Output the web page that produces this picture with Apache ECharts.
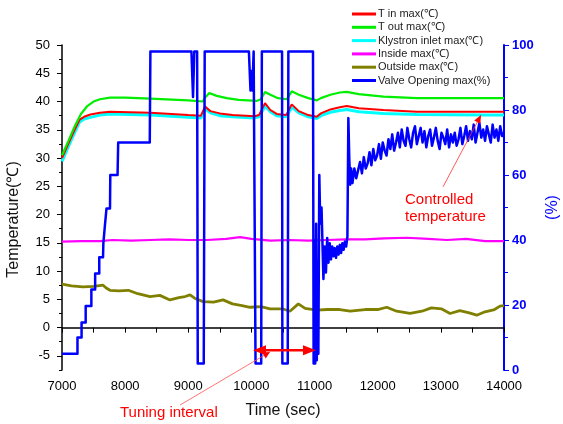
<!DOCTYPE html>
<html>
<head>
<meta charset="utf-8">
<script src="https://cdn.jsdelivr.net/npm/echarts@6/dist/echarts.min.js"></script>
<style>
html, body { margin: 0; padding: 0; background: #fff; }
#main { width: 563px; height: 424px; }
</style>
</head>
<body>
<div id="main"></div>
<script>
/* series names (legend order) */
const names = ['T in max(\u2103)', 'T out max(\u2103)', 'Klystron inlet max(\u2103)',
    'Inside max(\u2103)', 'Outside max(\u2103)', 'Valve Opening max(%)'];

/* T in (red) */
const tinTime = [7000, 7100, 7200, 7280, 7350, 7450, 7600, 7760, 8400, 9000, 9200, 9265, 9350, 9500, 9700,
    10050, 10120, 10215, 10300, 10400, 10550, 10638, 10750, 10900, 11034, 11100, 11250, 11400, 11510,
    11700, 12090, 12620, 13700, 14000];
const tinValue = [30, 32.5, 35, 36.8, 37.3, 37.7, 38.0, 38.2, 38.0, 37.6, 37.5, 39.1, 38.3, 37.9, 37.6,
    37.4, 37.6, 39.7, 38.5, 37.8, 37.6, 39.5, 38.3, 37.6, 37.3, 37.9, 38.6, 39.0, 39.2,
    38.8, 38.5, 38.2, 38.2, 38.2];

/* T out (green) */
const toutTime = [7000, 7100, 7200, 7300, 7400, 7500, 7600, 7760, 8000, 8400, 9000, 9230, 9260, 9333, 9450,
    9610, 9800, 10080, 10150, 10215, 10300, 10420, 10560, 10638, 10750, 10900, 11034, 11100, 11250,
    11400, 11510, 11700, 12090, 12620, 14000];
const toutValue = [30.5, 33, 35.6, 37.8, 39.2, 40.0, 40.4, 40.7, 40.7, 40.5, 40.2, 40.0, 40.6, 41.5, 41.0,
    40.6, 40.3, 40.1, 40.4, 41.7, 41.2, 40.6, 40.4, 41.8, 41.2, 40.6, 40.2, 40.6, 41.2,
    41.6, 41.7, 41.3, 40.85, 40.6, 40.6];

/* Klystron inlet (cyan) */
const klyTime = [7000, 7100, 7200, 7280, 7350, 7450, 7600, 7760, 8400, 9000, 9200, 9270, 9350, 9500, 9700,
    10050, 10120, 10220, 10300, 10400, 10550, 10640, 10750, 10900, 11034, 11100, 11250, 11400, 11510,
    11700, 12090, 12620, 13700, 14000];
const klyValue = [29.4, 32, 34.5, 36.4, 36.9, 37.2, 37.6, 37.8, 37.6, 37.2, 37.1, 38.7, 38.0, 37.5, 37.3,
    37.1, 37.3, 39.2, 38.2, 37.5, 37.3, 39.0, 38.0, 37.3, 37.0, 37.5, 38.1, 38.4, 38.6,
    38.2, 37.9, 37.7, 37.6, 37.6];

/* Inside (magenta) */
const insideTime = [7000, 7300, 7600, 7800, 8100, 8400, 8700, 9000, 9300, 9600, 9820, 10000, 10300, 10600,
    10900, 11200, 11500, 11800, 12100, 12460, 12800, 13100, 13400, 13700, 14000];
const insideValue = [15.2, 15.3, 15.3, 15.5, 15.4, 15.5, 15.6, 15.5, 15.5, 15.7, 16.0, 15.7, 15.4, 15.5,
    15.4, 15.5, 15.6, 15.6, 15.8, 15.9, 15.7, 15.5, 15.7, 15.3, 15.3];

/* Outside (olive) */
const outsideTime = [7000, 7150, 7330, 7500, 7650, 7700, 7760, 7900, 8050, 8200, 8394, 8550, 8710, 8850,
    8950, 9028, 9100, 9234, 9400, 9550, 9700, 9850, 9978, 10150, 10295, 10500, 10610, 10743, 10850,
    11034, 11200, 11400, 11563, 11800, 12000, 12143, 12300, 12512, 12700, 12850, 13015, 13146, 13300,
    13450, 13568, 13700, 13850, 13937, 14000];
const outsideValue = [7.7, 7.4, 7.2, 7.3, 7.5, 7.0, 6.6, 6.5, 6.6, 6.0, 5.5, 5.7, 4.9, 5.3,
    5.5, 5.8, 5.2, 4.6, 4.5, 4.9, 4.2, 3.9, 3.6, 3.7, 3.3, 3.3, 2.9, 4.2, 3.4,
    3.1, 3.2, 3.2, 2.9, 3.2, 3.2, 3.6, 2.9, 2.5, 2.9, 3.5, 3.3, 2.5, 3.0,
    2.6, 2.2, 2.8, 3.2, 3.8, 3.9];

/* Valve opening (blue, right axis) */
const valveTime = [7000, 7245, 7245, 7310, 7310, 7375, 7375, 7465, 7465, 7525, 7525, 7590, 7590, 7650,
    7655, 7675, 7680, 7700, 7705, 7760, 7765, 7880, 7890, 8390, 8400,
    9050, 9075, 9095, 9140, 9150, 9245, 9260,
    9960, 9985, 10000, 10015, 10035, 10060, 10065, 10155, 10165,
    10485, 10490, 10575, 10585,
    10975, 10985, 11000, 11010, 11025, 11035, 11050, 11060, 11075, 11090, 11110, 11140, 11160, 11180,
    11200, 11220, 11240, 11260, 11280, 11300, 11320, 11340, 11360, 11380, 11400, 11420, 11440, 11460,
    11480, 11500, 11520, 11535, 11550, 11565, 11580,
    11600, 11630, 11660, 11690, 11720, 11750, 11780, 11810, 11840, 11870, 11900, 11930, 11960, 11990,
    12020, 12050, 12080, 12110, 12140, 12170, 12200, 12230, 12260, 12290, 12320, 12350, 12380, 12410,
    12440, 12470, 12500, 12530, 12560, 12590, 12620, 12650, 12680, 12710, 12740, 12770, 12800, 12830,
    12860, 12890, 12920, 12950, 12980, 13010, 13040, 13070, 13100, 13130, 13160, 13190, 13220, 13250,
    13280, 13310, 13340, 13370, 13400, 13430, 13460, 13490, 13520, 13550, 13580, 13610, 13640, 13670,
    13700, 13730, 13760, 13790, 13820, 13850, 13880, 13910, 13940, 13970, 14000];
const valveValue = [5, 5, 10, 10, 14.6, 14.6, 19.7, 19.7, 24.8, 24.8, 29.7, 29.7, 34.7, 34.7,
    39, 39, 44.6, 44.6, 49.7, 49.7, 60, 60, 70, 70, 98,
    98, 84, 98, 98, 2, 2, 98,
    98, 86, 92, 86, 98, 98, 2, 2, 98,
    98, 2, 2, 98,
    98, 2, 40, 2, 45, 3, 30, 5, 60, 45, 50, 28, 38, 30,
    40.6, 33, 39, 34, 38, 35, 37.5, 34.5, 38, 35.5, 38.5, 36, 39, 37,
    39.5, 38, 41, 77.5, 65, 57, 62,
    57.5, 62, 59, 61.5, 64, 60.5, 65.5, 62, 63.5, 67, 63, 68, 64.5, 66,
    69.5, 65, 70, 67.5, 66, 71, 68, 72.5, 67.5, 70, 73, 68.5, 74, 70.5,
    69, 74.5, 71, 68.5, 73, 75, 69.5, 72, 74.5, 70, 73.5, 68.5, 72, 74,
    69, 71.5, 74.5, 70.5, 68, 73, 71.5, 69.5, 74, 68.5, 72.5, 70, 73, 69,
    71, 74.5, 69.5, 72, 75, 70.5, 73.5, 71, 75.5, 70, 73, 76, 71.5, 74,
    70.5, 75, 72.5, 70, 75.5, 71.5, 74, 70.5, 75, 72, 73];

/* left axis ticks */
const leftMajor = [-5, 0, 5, 10, 15, 20, 25, 30, 35, 40, 45, 50];

const colors = ['#ff0000', '#00ee00', '#00ffff', '#ff00ff', '#808000', '#0000ff'];
const font = '"Liberation Sans", Arial, sans-serif';

const pairs = (t, v) => t.map((x, i) => [x, v[i]]);

const chartDom = document.getElementById('main');
const myChart = echarts.init(chartDom);
var option;

option = {
    animation: false,
    color: colors,
    textStyle: { fontFamily: font },
    grid: { left: 62, right: 59, top: 45, bottom: 54, containLabel: false, outerBoundsMode: 'none' },
    legend: {
        data: names,
        orient: 'vertical',
        left: 352,
        top: 8,
        padding: 0,
        icon: 'rect',
        itemWidth: 24,
        itemHeight: 3,
        itemGap: 1.3,
        selectedMode: false,
        textStyle: { fontSize: 11, lineHeight: 12, color: '#222', fontFamily: font, padding: [0, 0, 0, -3] }
    },
    xAxis: {
        type: 'value',
        min: 7000,
        max: 14000,
        interval: 1000,
        name: 'Time (sec)',
        nameLocation: 'middle',
        nameGap: 33,
        nameTextStyle: { fontSize: 16, color: '#111', fontFamily: font },
        axisLine: { lineStyle: { color: '#000', width: 1.5 } },
        axisTick: { length: 5, lineStyle: { color: '#000', width: 1 } },
        minorTick: { show: true, splitNumber: 2, length: 5, lineStyle: { color: '#000', width: 1 } },
        axisLabel: { fontSize: 13, color: '#000', margin: 10, fontFamily: font, formatter: (v) => String(v) },
        splitLine: { show: false }
    },
    yAxis: [
        {
            type: 'value',
            position: 'left',
            min: -7.5,
            max: 50,
            interval: 2.5,
            name: 'Temperature(\u2103)',
            nameLocation: 'middle',
            nameGap: 40,
            nameTextStyle: { fontSize: 16, color: '#111', fontFamily: font, padding: [0, 24, 0, 0] },
            axisLine: { show: true, lineStyle: { color: '#000', width: 1.5 } },
            axisTick: { length: 3, lineStyle: { color: '#000', width: 1 } },
            axisLabel: {
                fontSize: 13, color: '#000', margin: 12, fontFamily: font,
                formatter: (v) => (Math.abs(v % 5) < 1e-6 && v > -6 ? String(v) : '')
            },
            splitLine: { show: false }
        },
        {
            type: 'value',
            position: 'right',
            min: 0,
            max: 100,
            interval: 20,
            name: '(%)',
            nameLocation: 'middle',
            nameGap: 34,
            nameTextStyle: { fontSize: 16, color: '#0000ff', fontFamily: font },
            axisLine: { show: true, lineStyle: { color: '#0000ff', width: 2 } },
            axisTick: { length: 5, lineStyle: { color: '#0000ff', width: 1 } },
            minorTick: { show: true, splitNumber: 2, length: 4, lineStyle: { color: '#0000ff', width: 1 } },
            axisLabel: { fontSize: 13, color: '#0000ff', fontWeight: 'bold', margin: 8, fontFamily: font },
            splitLine: { show: false }
        },
        {
            /* overlay: longer major ticks for the temperature axis */
            type: 'value',
            position: 'left',
            min: -7.5,
            max: 50,
            axisLine: { show: false },
            axisTick: { show: true, length: 5, customValues: leftMajor, lineStyle: { color: '#000', width: 1 } },
            axisLabel: { show: false },
            splitLine: { show: false }
        }
    ],
    series: [
        { name: names[0], type: 'line', yAxisIndex: 0, data: pairs(tinTime, tinValue), showSymbol: false, lineStyle: { width: 2 }, z: 3 },
        { name: names[1], type: 'line', yAxisIndex: 0, data: pairs(toutTime, toutValue), showSymbol: false, lineStyle: { width: 2.2 }, z: 3 },
        { name: names[2], type: 'line', yAxisIndex: 0, data: pairs(klyTime, klyValue), showSymbol: false, lineStyle: { width: 3 }, z: 2 },
        { name: names[3], type: 'line', yAxisIndex: 0, data: pairs(insideTime, insideValue), showSymbol: false, lineStyle: { width: 2.2 }, z: 3 },
        { name: names[4], type: 'line', yAxisIndex: 0, data: pairs(outsideTime, outsideValue), showSymbol: false, lineStyle: { width: 2.8 }, z: 3 },
        { name: names[5], type: 'line', yAxisIndex: 1, data: pairs(valveTime, valveValue), showSymbol: false, lineStyle: { width: 2.5, join: 'round' }, z: 4 }
    ]
};

option && myChart.setOption(option);

/* annotations, anchored in data coordinates (time, temperature) */
const px = (p) => myChart.convertToPixel({ seriesIndex: 0 }, p);

const arrowHead = (tip, from, len, half) => {
    const dx = tip[0] - from[0], dy = tip[1] - from[1];
    const d = Math.hypot(dx, dy), ux = dx / d, uy = dy / d;
    const bx = tip[0] - ux * len, by = tip[1] - uy * len;
    return [tip, [bx - uy * half, by + ux * half], [bx + uy * half, by - ux * half]];
};

const red = '#ff0000';
const tuneA = px([10025, -4]), tuneB = px([11023, -4]);
const tuneTail = px([8869, -13.7]), tuneTip = px([10294, -4.3]);
const ctrlTail = px([13034, 24.9]), ctrlTip = px([13636, 37.6]);
const tuneText = px([7918, -15.1]);
const ctrlText1 = px([12432, 22.6]), ctrlText2 = px([12432, 19.6]);

const graphics = [
    { type: 'line', z: 10, shape: { x1: tuneA[0] + 6, y1: tuneA[1], x2: tuneB[0] - 6, y2: tuneB[1] }, style: { stroke: red, lineWidth: 2.5 } },
    { type: 'polygon', z: 10, shape: { points: arrowHead(tuneA, tuneB, 13, 5) }, style: { fill: red } },
    { type: 'polygon', z: 10, shape: { points: arrowHead(tuneB, tuneA, 13, 5) }, style: { fill: red } },
    { type: 'line', z: 10, shape: { x1: tuneTail[0], y1: tuneTail[1], x2: tuneTip[0], y2: tuneTip[1] }, style: { stroke: '#ff5050', lineWidth: 0.8 } },
    { type: 'polygon', z: 10, shape: { points: arrowHead(tuneTip, tuneTail, 7, 3.5) }, style: { fill: red } },
    { type: 'line', z: 10, shape: { x1: ctrlTail[0], y1: ctrlTail[1], x2: ctrlTip[0], y2: ctrlTip[1] }, style: { stroke: '#ff3030', lineWidth: 0.8 } },
    { type: 'polygon', z: 10, shape: { points: arrowHead(ctrlTip, ctrlTail, 8, 3.5) }, style: { fill: red } },
    { type: 'text', z: 10, x: tuneText[0], y: tuneText[1], style: { text: 'Tuning interval', fill: red, fontSize: 15, fontFamily: font, verticalAlign: 'middle' } },
    { type: 'text', z: 10, x: ctrlText1[0], y: ctrlText1[1], style: { text: 'Controlled', fill: red, fontSize: 15, fontFamily: font, verticalAlign: 'middle' } },
    { type: 'text', z: 10, x: ctrlText2[0], y: ctrlText2[1], style: { text: 'temperature', fill: red, fontSize: 15, fontFamily: font, verticalAlign: 'middle' } }
];

myChart.setOption({ graphic: graphics });
</script>
</body>
</html>
